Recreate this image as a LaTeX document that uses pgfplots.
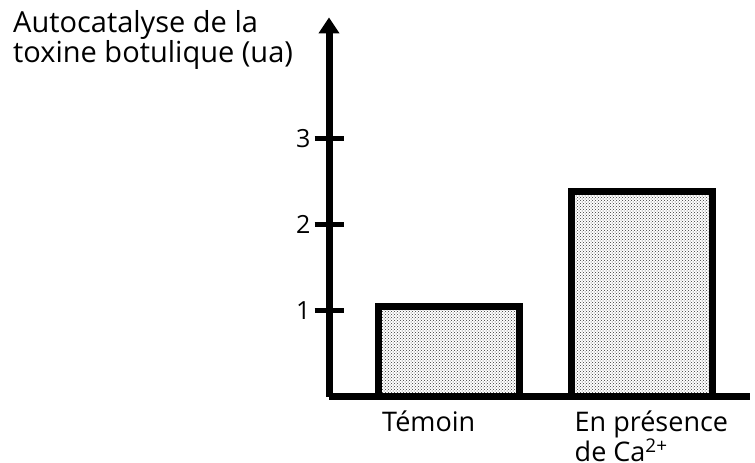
\documentclass[border=0pt]{standalone}
\usepackage{pgfplots}
\pgfplotsset{compat=1.18}
\usepackage{fontspec}
\setmainfont{Open Sans}
\usetikzlibrary{patterns,arrows.meta}
\begin{document}
\begin{tikzpicture}
\useasboundingbox (0,0) rectangle (755pt,463pt);
\begin{axis}[
  at={(329pt,66.3pt)}, anchor=south west,
  scale only axis, width=421pt, height=379.3pt,
  xmin=0, xmax=421, ymin=0, ymax=4.41,
  clip=false,
  axis lines=left,
  x axis line style={-, line width=7pt},
  y axis line style={-{Triangle[width=20pt,length=16pt]}, line width=7pt},
  xtick={120,312.5},
  xticklabels={T\'emoin, {\begin{tabular}[t]{@{}l@{}}En pr\'esence\\de Ca\textsuperscript{2+}\end{tabular}}},
  xticklabel style={anchor=base west, inner sep=0pt, xshift=-67pt, yshift=-6pt, font=\fontsize{27}{24}\selectfont},
  x tick style={draw=none},
  ytick={1,2,3},
  y tick style={line width=5pt, black},
  major tick length=29pt, tick align=center,
  yticklabel style={font=\fontsize{25}{26}\selectfont, anchor=east, inner sep=0pt, xshift=-4pt},
  /pgf/number format/assume math mode=true,
  ybar, bar width=141pt,
]
\addplot[draw=black, line width=7pt, pattern=crosshatch dots, pattern color=black!80] coordinates {(120,1.05) (312.5,2.39)};
\end{axis}
\node[anchor=base west, font=\fontsize{29}{31}\selectfont, inner sep=0pt] at (13pt,430pt) {Autocatalyse de la};
\node[anchor=base west, font=\fontsize{29}{31}\selectfont, inner sep=0pt] at (13pt,400pt) {toxine botulique (ua)};
\end{tikzpicture}
\end{document}
